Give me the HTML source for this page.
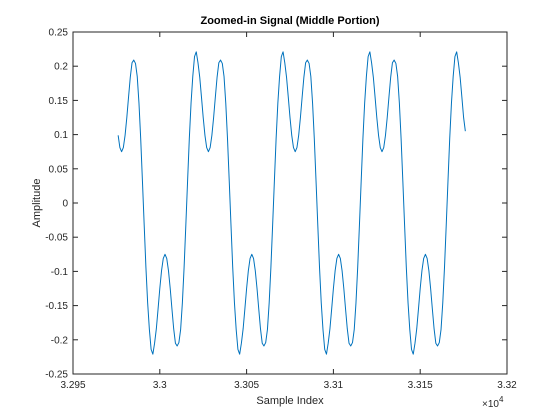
<!DOCTYPE html>
<html><head><meta charset="utf-8"><style>
html,body{margin:0;padding:0;background:#fff;}
svg{display:block;font-family:"Liberation Sans",Arial,sans-serif;}
</style></head><body>
<svg id="chart" width="560" height="420" viewBox="0 0 560 420" xmlns="http://www.w3.org/2000/svg">
<rect width="560" height="420" fill="#fff"/>
<text x="290" y="24" text-anchor="middle" font-size="11" font-weight="bold" fill="#000">Zoomed-in Signal (Middle Portion)</text>
<text x="290" y="404" text-anchor="middle" font-size="11" fill="#262626">Sample Index</text>
<text transform="translate(40,203) rotate(-90)" text-anchor="middle" font-size="11" fill="#262626">Amplitude</text>
<text x="482" y="407" font-size="10" fill="#262626">×10<tspan dy="-5" font-size="8">4</tspan></text>
<g id="ticks"></g>
<g id="series"></g>
<rect x="73" y="32" width="434" height="342" fill="none" stroke="#262626" stroke-width="1"/>
</svg>
<script>
const xStart = 32976;
const xTicks = [32950, 33000, 33050, 33100, 33150, 33200];
const xTickLabels = ["3.295", "3.3", "3.305", "3.31", "3.315", "3.32"];
const yTicks = [-0.25, -0.2, -0.15, -0.1, -0.05, 0, 0.05, 0.1, 0.15, 0.2, 0.25];
const yTickLabels = ["-0.25", "-0.2", "-0.15", "-0.1", "-0.05", "0", "0.05", "0.1", "0.15", "0.2", "0.25"];
const amplitude = [
0.099,0.081,0.075,0.081,0.099,0.125,0.155,0.184,0.205,0.209,0.204,0.185,0.146,0.094,0.032,
-0.032,-0.094,-0.146,-0.185,-0.214,-0.221,-0.205,-0.184,-0.155,-0.125,-0.099,-0.081,-0.075,-0.081,-0.099,-0.125,-0.155,-0.184,-0.205,-0.209,-0.204,-0.185,-0.146,-0.094,-0.032,
0.032,0.094,0.146,0.185,0.214,0.221,0.205,0.184,0.155,0.125,
0.099,0.081,0.075,0.081,0.099,0.125,0.155,0.184,0.205,0.209,0.204,0.185,0.146,0.094,0.032,
-0.032,-0.094,-0.146,-0.185,-0.214,-0.221,-0.205,-0.184,-0.155,-0.125,-0.099,-0.081,-0.075,-0.081,-0.099,-0.125,-0.155,-0.184,-0.205,-0.209,-0.204,-0.185,-0.146,-0.094,-0.032,
0.032,0.094,0.146,0.185,0.214,0.221,0.205,0.184,0.155,0.125,
0.099,0.081,0.075,0.081,0.099,0.125,0.155,0.184,0.205,0.209,0.204,0.185,0.146,0.094,0.032,
-0.032,-0.094,-0.146,-0.185,-0.214,-0.221,-0.205,-0.184,-0.155,-0.125,-0.099,-0.081,-0.075,-0.081,-0.099,-0.125,-0.155,-0.184,-0.205,-0.209,-0.204,-0.185,-0.146,-0.094,-0.032,
0.032,0.094,0.146,0.185,0.214,0.221,0.205,0.184,0.155,0.125,
0.099,0.081,0.075,0.081,0.099,0.125,0.155,0.184,0.205,0.209,0.204,0.185,0.146,0.094,0.032,
-0.032,-0.094,-0.146,-0.185,-0.214,-0.221,-0.205,-0.184,-0.155,-0.125,-0.099,-0.081,-0.075,-0.081,-0.099,-0.125,-0.155,-0.184,-0.205,-0.209,-0.204,-0.185,-0.146,-0.094,-0.032,
0.032,0.094,0.146,0.185,0.214,0.221,0.205,0.184,0.155,0.125,
0.105
];

const L = 73, R = 507, T = 32, B = 374;
const X0 = 32950, X1 = 33200, Y0 = -0.25, Y1 = 0.25;
function sx(v){ return L + (v - X0) / (X1 - X0) * (R - L); }
function sy(v){ return B - (v - Y0) / (Y1 - Y0) * (B - T); }
const NS = "http://www.w3.org/2000/svg";
const tg = document.getElementById('ticks');

xTicks.forEach((t, i) => {
  const x = sx(t);
  [[B, B - 5], [T, T + 5]].forEach(([a, b]) => {
    const ln = document.createElementNS(NS, 'line');
    
    
    ln.setAttribute('x1', x); ln.setAttribute('x2', x);
    ln.setAttribute('y1', a); ln.setAttribute('y2', b);
    ln.setAttribute('stroke', '#262626');
    tg.appendChild(ln);
  });
  const tx = document.createElementNS(NS, 'text');
  
  
  tx.setAttribute('x', x); tx.setAttribute('y', B + 14);
  tx.setAttribute('text-anchor', 'middle');
  tx.setAttribute('font-size', '10');
  tx.setAttribute('fill', '#262626');
  tx.textContent = xTickLabels[i];
  tg.appendChild(tx);
});

yTicks.forEach((t, i) => {
  const y = sy(t);
  [[L, L + 5], [R, R - 5]].forEach(([a, b]) => {
    const ln = document.createElementNS(NS, 'line');
    
    
    ln.setAttribute('x1', a); ln.setAttribute('x2', b);
    ln.setAttribute('y1', y); ln.setAttribute('y2', y);
    ln.setAttribute('stroke', '#262626');
    tg.appendChild(ln);
  });
  const tx = document.createElementNS(NS, 'text');
  
  
  tx.setAttribute('x', L - 5); tx.setAttribute('y', y + 3.5);
  tx.setAttribute('text-anchor', 'end');
  tx.setAttribute('font-size', '10');
  tx.setAttribute('fill', '#262626');
  tx.textContent = yTickLabels[i];
  tg.appendChild(tx);
});

const pts = amplitude.map((v, i) => sx(xStart + i).toFixed(2) + ',' + sy(v).toFixed(2)).join(' ');
const pl = document.createElementNS(NS, 'polyline');


pl.setAttribute('points', pts);
pl.setAttribute('fill', 'none');
pl.setAttribute('stroke', '#0072BD');
pl.setAttribute('stroke-width', '1');
pl.setAttribute('stroke-linejoin', 'round');
document.getElementById('series').appendChild(pl);
</script>
</body></html>
